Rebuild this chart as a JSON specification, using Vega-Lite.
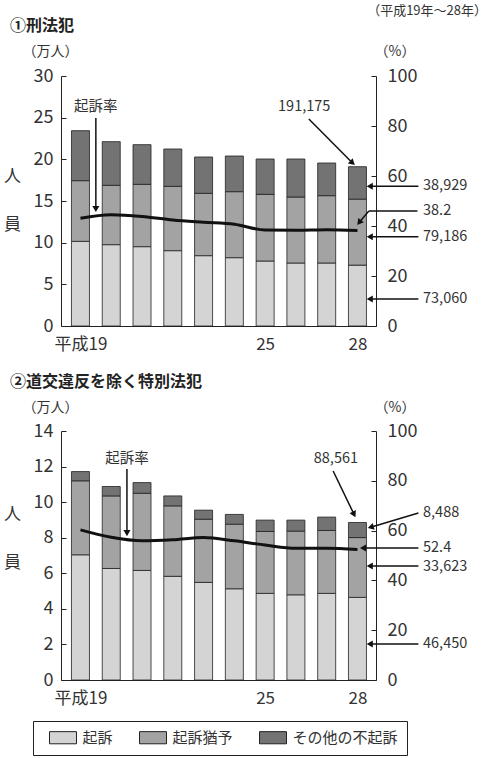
{
"$schema": "https://vega.github.io/schema/vega-lite/v6.json",
"padding": {"left": 3, "top": 5, "right": 0, "bottom": 0},
"config": {
  "font": "Noto Sans CJK JP",
  "view": {"stroke": null},
  "axis": {"domainColor": "#222", "tickColor": "#222", "labelColor": "#333", "grid": false, "labelFontSize": 18, "domainWidth": 1, "tickWidth": 1, "labelFont": "Noto Sans CJK JP"},
  "point": {"filled": true, "size": 50, "color": "#111", "opacity": 1},
  "text": {"color": "#333"}
},
"datasets": {
  "p1": [
    {"x":19,"cat":"起訴","k":1,"y":10.16},{"x":19,"cat":"起訴猶予","k":2,"y":7.28},{"x":19,"cat":"その他の不起訴","k":3,"y":6.0},
    {"x":20,"cat":"起訴","k":1,"y":9.76},{"x":20,"cat":"起訴猶予","k":2,"y":7.12},{"x":20,"cat":"その他の不起訴","k":3,"y":5.24},
    {"x":21,"cat":"起訴","k":1,"y":9.52},{"x":21,"cat":"起訴猶予","k":2,"y":7.48},{"x":21,"cat":"その他の不起訴","k":3,"y":4.76},
    {"x":22,"cat":"起訴","k":1,"y":9.04},{"x":22,"cat":"起訴猶予","k":2,"y":7.72},{"x":22,"cat":"その他の不起訴","k":3,"y":4.48},
    {"x":23,"cat":"起訴","k":1,"y":8.44},{"x":23,"cat":"起訴猶予","k":2,"y":7.48},{"x":23,"cat":"その他の不起訴","k":3,"y":4.36},
    {"x":24,"cat":"起訴","k":1,"y":8.2},{"x":24,"cat":"起訴猶予","k":2,"y":7.92},{"x":24,"cat":"その他の不起訴","k":3,"y":4.28},
    {"x":25,"cat":"起訴","k":1,"y":7.8},{"x":25,"cat":"起訴猶予","k":2,"y":8.0},{"x":25,"cat":"その他の不起訴","k":3,"y":4.24},
    {"x":26,"cat":"起訴","k":1,"y":7.56},{"x":26,"cat":"起訴猶予","k":2,"y":7.92},{"x":26,"cat":"その他の不起訴","k":3,"y":4.56},
    {"x":27,"cat":"起訴","k":1,"y":7.56},{"x":27,"cat":"起訴猶予","k":2,"y":8.08},{"x":27,"cat":"その他の不起訴","k":3,"y":3.92},
    {"x":28,"cat":"起訴","k":1,"y":7.306},{"x":28,"cat":"起訴猶予","k":2,"y":7.9186},{"x":28,"cat":"その他の不起訴","k":3,"y":3.8929}
  ],
  "r1": [
    {"x":19,"rate":43.1},{"x":20,"rate":44.5},{"x":21,"rate":43.8},{"x":22,"rate":42.4},{"x":23,"rate":41.5},
    {"x":24,"rate":40.7},{"x":25,"rate":38.4},{"x":26,"rate":38.3},{"x":27,"rate":38.5},{"x":28,"rate":38.2}
  ],
  "p2": [
    {"x":19,"cat":"起訴","k":1,"y":7.04},{"x":19,"cat":"起訴猶予","k":2,"y":4.16},{"x":19,"cat":"その他の不起訴","k":3,"y":0.52},
    {"x":20,"cat":"起訴","k":1,"y":6.27},{"x":20,"cat":"起訴猶予","k":2,"y":4.08},{"x":20,"cat":"その他の不起訴","k":3,"y":0.53},
    {"x":21,"cat":"起訴","k":1,"y":6.16},{"x":21,"cat":"起訴猶予","k":2,"y":4.34},{"x":21,"cat":"その他の不起訴","k":3,"y":0.6},
    {"x":22,"cat":"起訴","k":1,"y":5.83},{"x":22,"cat":"起訴猶予","k":2,"y":3.96},{"x":22,"cat":"その他の不起訴","k":3,"y":0.56},
    {"x":23,"cat":"起訴","k":1,"y":5.49},{"x":23,"cat":"起訴猶予","k":2,"y":3.55},{"x":23,"cat":"その他の不起訴","k":3,"y":0.51},
    {"x":24,"cat":"起訴","k":1,"y":5.13},{"x":24,"cat":"起訴猶予","k":2,"y":3.63},{"x":24,"cat":"その他の不起訴","k":3,"y":0.55},
    {"x":25,"cat":"起訴","k":1,"y":4.87},{"x":25,"cat":"起訴猶予","k":2,"y":3.48},{"x":25,"cat":"その他の不起訴","k":3,"y":0.64},
    {"x":26,"cat":"起訴","k":1,"y":4.79},{"x":26,"cat":"起訴猶予","k":2,"y":3.58},{"x":26,"cat":"その他の不起訴","k":3,"y":0.62},
    {"x":27,"cat":"起訴","k":1,"y":4.87},{"x":27,"cat":"起訴猶予","k":2,"y":3.54},{"x":27,"cat":"その他の不起訴","k":3,"y":0.75},
    {"x":28,"cat":"起訴","k":1,"y":4.645},{"x":28,"cat":"起訴猶予","k":2,"y":3.3623},{"x":28,"cat":"その他の不起訴","k":3,"y":0.8488}
  ],
  "r2": [
    {"x":19,"rate":60.3},{"x":20,"rate":57.3},{"x":21,"rate":55.9},{"x":22,"rate":56.3},{"x":23,"rate":57.2},
    {"x":24,"rate":55.9},{"x":25,"rate":54.2},{"x":26,"rate":52.9},{"x":27,"rate":52.9},{"x":28,"rate":52.4}
  ]
},
"vconcat": [
  {
    "width": 315, "height": 250,
    "resolve": {"scale": {"y": "independent"}},
    "encoding": {
      "x": {"field": "x", "type": "quantitative", "scale": {"domain": [18.53, 28.44], "nice": false, "zero": false},
            "axis": {"values": [19, 25, 28], "labelExpr": "datum.value == 19 ? '平成19' : datum.label", "ticks": false, "title": null, "labelPadding": 10, "labelFontSize": 17, "labelFlush": false}}
    },
    "layer": [
      {
        "encoding": {
          "y": {"field": "y", "type": "quantitative", "scale": {"domain": [0, 30], "nice": false},
                "axis": {"orient": "left", "values": [0, 5, 10, 15, 20, 25, 30], "tickSize": -5, "labelPadding": 13, "title": ["人", "員"], "titleAngle": 0, "titleX": -49, "titleY": 100, "titleLineHeight": 48, "titleFontSize": 17, "titleFontWeight": "normal", "titleAlign": "center", "titleBaseline": "middle", "titleColor": "#333"}}
        },
        "layer": [
          {
            "data": {"name": "p1"},
            "mark": {"type": "bar", "size": 18, "stroke": "#222", "strokeWidth": 0.8},
            "encoding": {
              "color": {"field": "cat", "type": "nominal", "scale": {"domain": ["起訴", "起訴猶予", "その他の不起訴"], "range": ["#d4d4d4", "#a3a3a3", "#737373"]},
                        "legend": {"orient": "none", "legendX": -28, "legendY": 645, "direction": "horizontal", "title": null, "strokeColor": "#222", "padding": 9, "symbolType": "M-2,-0.9H2V0.9H-2Z", "symbolSize": 182, "symbolStrokeColor": "#222", "symbolStrokeWidth": 1, "symbolOffset": 13.5, "labelFontSize": 15, "labelOffset": 12, "columnPadding": 19, "labelColor": "#333"}},
              "order": {"field": "k"}
            }
          },
          {
            "data": {"values": [
              {"x":19.5,"y":24.96,"x2":19.5,"y2":14.04},
              {"x":26.42,"y":24.84,"x2":27.84,"y2":19.56},
              {"x":29.98,"y":16.76,"x2":28.40,"y2":16.76},
              {"x":29.95,"y":13.8,"x2":28.37,"y2":13.8},
              {"x":28.37,"y":13.8,"x2":28.055,"y2":12.41},
              {"x":29.98,"y":10.72,"x2":28.40,"y2":10.72},
              {"x":29.98,"y":3.24,"x2":28.40,"y2":3.24}
            ]},
            "mark": {"type": "rule", "color": "#111", "strokeWidth": 1.5},
            "encoding": {"x2": {"field": "x2"}, "y2": {"field": "y2"}}
          },
          {
            "data": {"values": [{"x":28.40,"y":16.76},{"x":28.40,"y":10.72},{"x":28.40,"y":3.24}]},
            "mark": {"type": "point", "shape": "triangle-left"}
          },
          {
            "data": {"values": [{"x":19.5,"y":14.04}]},
            "mark": {"type": "point", "shape": "triangle-down"}
          },
          {
            "data": {"values": [{"x":27.84,"y":19.56}]},
            "mark": {"type": "point", "shape": "triangle-down", "angle": -48}
          },
          {
            "data": {"values": [{"x":28.055,"y":12.41}]},
            "mark": {"type": "point", "shape": "triangle-down", "angle": 38}
          },
          {
            "data": {"values": [
              {"x":30.13,"y":16.76,"t":"38,929"},{"x":30.13,"y":13.8,"t":"38.2"},
              {"x":30.13,"y":10.72,"t":"79,186"},{"x":30.13,"y":3.24,"t":"73,060"}
            ]},
            "mark": {"type": "text", "align": "left", "baseline": "middle", "fontSize": 14.5},
            "encoding": {"text": {"field": "t"}}
          },
          {
            "data": {"values": [
              {"x":19.5,"y":26.3,"t":"起訴率"},{"x":26.27,"y":26.28,"t":"191,175"}
            ]},
            "mark": {"type": "text", "align": "center", "baseline": "middle", "fontSize": 14.5},
            "encoding": {"text": {"field": "t"}}
          },
          {
            "data": {"values": [
              {"x":18.03,"y":32.88,"t":"（万人）"},{"x":29.22,"y":32.88,"t":"（%）"}
            ]},
            "mark": {"type": "text", "align": "center", "baseline": "middle", "fontSize": 14},
            "encoding": {"text": {"field": "t"}}
          },
          {
            "data": {"values": [{"x":16.71,"y":36.0,"t":"①刑法犯"}]},
            "mark": {"type": "text", "align": "left", "baseline": "middle", "fontSize": 16, "fontWeight": "bold", "color": "#222"},
            "encoding": {"text": {"field": "t"}}
          },
          {
            "data": {"values": [{"x":32.21,"y":37.8,"t":"（平成19年～28年）"}]},
            "mark": {"type": "text", "align": "right", "baseline": "middle", "fontSize": 13},
            "encoding": {"text": {"field": "t"}}
          }
        ]
      },
      {
        "data": {"name": "r1"},
        "mark": {"type": "line", "color": "#111", "strokeWidth": 3, "interpolate": "monotone"},
        "encoding": {
          "y": {"field": "rate", "type": "quantitative", "scale": {"domain": [0, 100], "nice": false},
                "axis": {"orient": "right", "values": [0, 20, 40, 60, 80, 100], "tickSize": -5, "labelPadding": 16, "title": null}}
        }
      }
    ]
  },
  {
    "width": 315, "height": 249,
    "resolve": {"scale": {"y": "independent"}},
    "encoding": {
      "x": {"field": "x", "type": "quantitative", "scale": {"domain": [18.53, 28.44], "nice": false, "zero": false},
            "axis": {"values": [19, 25, 28], "labelExpr": "datum.value == 19 ? '平成19' : datum.label", "ticks": false, "title": null, "labelPadding": 10, "labelFontSize": 17, "labelFlush": false}}
    },
    "layer": [
      {
        "encoding": {
          "y": {"field": "y", "type": "quantitative", "scale": {"domain": [0, 14], "nice": false},
                "axis": {"orient": "left", "values": [0, 2, 4, 6, 8, 10, 12, 14], "tickSize": -5, "labelPadding": 13, "title": ["人", "員"], "titleAngle": 0, "titleX": -49, "titleY": 83, "titleLineHeight": 48, "titleFontSize": 17, "titleFontWeight": "normal", "titleAlign": "center", "titleBaseline": "middle", "titleColor": "#333"}}
        },
        "layer": [
          {
            "data": {"name": "p2"},
            "mark": {"type": "bar", "size": 18, "stroke": "#222", "strokeWidth": 0.8},
            "encoding": {
              "color": {"field": "cat", "type": "nominal", "scale": {"domain": ["起訴", "起訴猶予", "その他の不起訴"], "range": ["#d4d4d4", "#a3a3a3", "#737373"]},
                        "legend": {"orient": "none", "legendX": -28, "legendY": 645, "direction": "horizontal", "title": null, "strokeColor": "#222", "padding": 9, "symbolType": "M-2,-0.9H2V0.9H-2Z", "symbolSize": 182, "symbolStrokeColor": "#222", "symbolStrokeWidth": 1, "symbolOffset": 13.5, "labelFontSize": 15, "labelOffset": 12, "columnPadding": 19, "labelColor": "#333"}},
              "order": {"field": "k"}
            }
          },
          {
            "data": {"values": [
              {"x":20.51,"y":11.86,"x2":20.51,"y2":8.26},
              {"x":27.21,"y":11.75,"x2":27.89,"y2":9.31},
              {"x":29.98,"y":9.39,"x2":28.43,"y2":8.59},
              {"x":29.98,"y":7.42,"x2":28.18,"y2":7.42},
              {"x":29.98,"y":6.41,"x2":28.40,"y2":6.41},
              {"x":29.98,"y":2.02,"x2":28.40,"y2":2.02}
            ]},
            "mark": {"type": "rule", "color": "#111", "strokeWidth": 1.5},
            "encoding": {"x2": {"field": "x2"}, "y2": {"field": "y2"}}
          },
          {
            "data": {"values": [{"x":28.18,"y":7.42},{"x":28.40,"y":6.41},{"x":28.40,"y":2.02}]},
            "mark": {"type": "point", "shape": "triangle-left"}
          },
          {
            "data": {"values": [{"x":20.51,"y":8.26}]},
            "mark": {"type": "point", "shape": "triangle-down"}
          },
          {
            "data": {"values": [{"x":27.89,"y":9.31}]},
            "mark": {"type": "point", "shape": "triangle-down", "angle": -26.6}
          },
          {
            "data": {"values": [{"x":28.43,"y":8.59}]},
            "mark": {"type": "point", "shape": "triangle-down", "angle": 74}
          },
          {
            "data": {"values": [
              {"x":30.13,"y":9.39,"t":"8,488"},{"x":30.13,"y":7.44,"t":"52.4"},
              {"x":30.13,"y":6.33,"t":"33,623"},{"x":30.13,"y":2.02,"t":"46,450"}
            ]},
            "mark": {"type": "text", "align": "left", "baseline": "middle", "fontSize": 14.5},
            "encoding": {"text": {"field": "t"}}
          },
          {
            "data": {"values": [
              {"x":20.51,"y":12.42,"t":"起訴率"},{"x":27.30,"y":12.42,"t":"88,561"}
            ]},
            "mark": {"type": "text", "align": "center", "baseline": "middle", "fontSize": 14.5},
            "encoding": {"text": {"field": "t"}}
          },
          {
            "data": {"values": [
              {"x":18.03,"y":15.28,"t":"（万人）"},{"x":29.22,"y":15.28,"t":"（%）"}
            ]},
            "mark": {"type": "text", "align": "center", "baseline": "middle", "fontSize": 14},
            "encoding": {"text": {"field": "t"}}
          },
          {
            "data": {"values": [{"x":16.71,"y":16.75,"t":"②道交違反を除く特別法犯"}]},
            "mark": {"type": "text", "align": "left", "baseline": "middle", "fontSize": 16, "fontWeight": "bold", "color": "#222"},
            "encoding": {"text": {"field": "t"}}
          }
        ]
      },
      {
        "data": {"name": "r2"},
        "mark": {"type": "line", "color": "#111", "strokeWidth": 3, "interpolate": "monotone"},
        "encoding": {
          "y": {"field": "rate", "type": "quantitative", "scale": {"domain": [0, 100], "nice": false},
                "axis": {"orient": "right", "values": [0, 20, 40, 60, 80, 100], "tickSize": -5, "labelPadding": 16, "title": null}}
        }
      }
    ]
  }
],
"spacing": 105,
"bounds": "flush"
}
